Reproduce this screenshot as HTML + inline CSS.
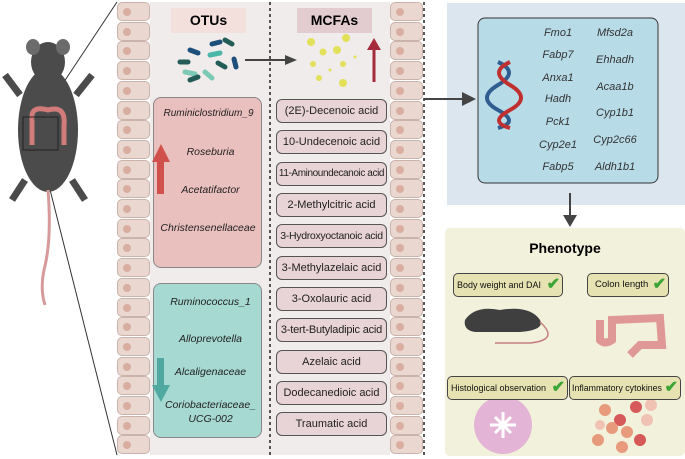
<!DOCTYPE html>
<html><head><style>
body{margin:0;width:685px;height:459px;background:#fff;position:relative;overflow:hidden;font-family:"Liberation Sans",sans-serif}
div{position:absolute;box-sizing:border-box}
.cell{width:33px;height:19px;background:#ead7d0;border:1px solid #c9b3ab;border-radius:5px}
.cell::after{content:"";position:absolute;left:5px;top:5px;width:8px;height:8px;border-radius:50%;background:#d9aea0}
.acid{left:276px;width:111px;height:24px;background:#e8d3d6;border:1px solid #555;border-radius:6px;font-size:11px;text-align:center;line-height:22px;color:#222;white-space:nowrap;overflow:hidden}
.it{font-style:italic;font-size:10.5px;color:#222;text-align:center;white-space:nowrap}
.g{font-style:italic;font-size:11px;color:#333;width:60px;text-align:center}
.chk{background:#e6e2b2;border:1px solid #444;border-radius:5px;font-size:9.5px;line-height:22px;padding-left:3px;height:24px;color:#111;white-space:nowrap}
.chk span{color:#3aa535;font-size:16px;font-weight:bold;position:absolute;right:2px;top:0px}
</style></head><body>
<svg width="685" height="459" style="position:absolute;left:0;top:0">
<line x1="40" y1="118" x2="117" y2="2" stroke="#333"/>
<line x1="40" y1="150" x2="117" y2="455" stroke="#333"/>
<ellipse cx="48" cy="130" rx="30" ry="62" fill="#4b4b4b"/>
<ellipse cx="48" cy="62" rx="17" ry="20" fill="#4b4b4b"/>
<ellipse cx="33" cy="47" rx="7" ry="8" fill="#6b6b6b"/><ellipse cx="63" cy="47" rx="7" ry="8" fill="#6b6b6b"/>
<path d="M20 95 L5 75 M76 95 L92 75 M25 180 L12 200 M72 180 L85 200" stroke="#4b4b4b" stroke-width="7"/>
<path d="M48 190 Q52 240 44 270 Q40 290 45 305" stroke="#d69a9a" stroke-width="3" fill="none"/>
<path d="M32 120 Q30 105 48 110 Q66 105 64 125 L64 145 M32 120 L32 145" stroke="#d27b7b" stroke-width="5" fill="none"/>
<rect x="23" y="117" width="35" height="33" fill="none" stroke="#222"/>
<rect x="150" y="2" width="240" height="453" fill="#f0eceb"/>
<line x1="270" y1="2" x2="270" y2="455" stroke="#222" stroke-width="1.5" stroke-dasharray="3,3"/>
<line x1="424" y1="2" x2="424" y2="455" stroke="#222" stroke-width="1.5" stroke-dasharray="3,3"/>
<g stroke-linecap="round" stroke-width="5">
<line x1="190" y1="50" x2="198" y2="53" stroke="#1e4f7a"/><line x1="212" y1="44" x2="220" y2="42" stroke="#1e4f7a"/>
<line x1="225" y1="40" x2="232" y2="44" stroke="#245c58"/><line x1="180" y1="62" x2="188" y2="62" stroke="#245c58"/>
<line x1="210" y1="55" x2="220" y2="53" stroke="#4ab7a8"/><line x1="218" y1="63" x2="225" y2="67" stroke="#245c58"/>
<line x1="185" y1="72" x2="195" y2="74" stroke="#7cc9b5"/><line x1="190" y1="80" x2="198" y2="77" stroke="#245c58"/>
<line x1="205" y1="72" x2="212" y2="78" stroke="#7cc9b5"/><line x1="234" y1="59" x2="236" y2="67" stroke="#1e4f7a"/>
</g>
<line x1="245" y1="60" x2="290" y2="60" stroke="#444" stroke-width="2"/><polygon points="285,55 297,60 285,65" fill="#444"/>
<g fill="#e3e05a"><circle cx="311" cy="42" r="4"/><circle cx="346" cy="38" r="4"/><circle cx="323" cy="52" r="3.5"/><circle cx="337" cy="50" r="4"/><circle cx="313" cy="64" r="3"/><circle cx="343" cy="64" r="3"/><circle cx="319" cy="78" r="3"/><circle cx="343" cy="83" r="4"/><circle cx="330" cy="70" r="1.5"/><circle cx="355" cy="57" r="1.5"/></g>
<line x1="374" y1="82" x2="374" y2="48" stroke="#a52a3a" stroke-width="3"/><polygon points="367,50 374,38 381,50" fill="#a52a3a"/>
<rect x="447" y="3" width="238" height="202" fill="#dbe6ee"/>
<line x1="424" y1="99" x2="468" y2="99" stroke="#444" stroke-width="2"/><polygon points="462,92 476,99 462,106" fill="#444"/>
<rect x="478" y="18" width="180" height="165" rx="7" fill="#b8dbe8" stroke="#333"/>
<path d="M498 62 Q520 72 498 85 Q476 98 498 110 Q520 122 498 128" stroke="#2f5d8f" stroke-width="4" fill="none"/>
<path d="M510 62 Q488 72 510 85 Q532 98 510 110 Q488 122 510 128" stroke="#c03030" stroke-width="4" fill="none"/>
<line x1="570" y1="193" x2="570" y2="218" stroke="#444" stroke-width="2"/><polygon points="563,215 570,227 577,215" fill="#444"/>
<rect x="445" y="228" width="240" height="228" rx="5" fill="#f2f1dc"/>
<path d="M465 320 Q475 305 500 310 Q530 305 540 320 Q545 330 520 332 L475 332 Q463 330 465 320Z" fill="#3f3f3f"/>
<path d="M540 322 Q560 340 530 343 L495 343" stroke="#c77f7f" stroke-width="1.5" fill="none"/>
<path d="M600 320 L600 340 Q605 345 612 340 L612 320 L660 318 L662 345 L640 345 L630 355" stroke="#e09896" stroke-width="8" fill="none"/>
<circle cx="503" cy="425" r="29" fill="#e3b4d5"/>
<path d="M490 425 L516 425 M503 412 L503 438 M495 417 L511 433 M511 417 L495 433" stroke="#fff" stroke-width="3"/>
<g fill="#e89a7c"><circle cx="605" cy="410" r="6"/><circle cx="620" cy="420" r="6" fill="#d65a5a"/><circle cx="636" cy="407" r="6" fill="#d65a5a"/><circle cx="612" cy="428" r="6"/><circle cx="627" cy="432" r="6"/><circle cx="647" cy="420" r="6" fill="#f0c2b4"/><circle cx="598" cy="440" r="6"/><circle cx="622" cy="447" r="6"/><circle cx="640" cy="440" r="6" fill="#d65a5a"/><circle cx="600" cy="425" r="5" fill="#f0c2b4"/><circle cx="651" cy="405" r="6" fill="#f0c2b4"/></g>
</svg>
<div id="cells"></div>
<script>
var h='';for(var i=0;i<23;i++){var y=2+i*19.7;h+='<div class="cell" style="left:117px;top:'+y+'px"></div><div class="cell" style="left:390px;top:'+y+'px"></div>';}
document.getElementById('cells').outerHTML=h;
</script>
<div style="left:171px;top:8px;width:75px;height:25px;background:#f3e0dc;font-weight:bold;font-size:14px;text-align:center;line-height:25px">OTUs</div>
<div style="left:297px;top:8px;width:75px;height:25px;background:#e2ccd0;font-weight:bold;font-size:14px;text-align:center;line-height:25px">MCFAs</div>
<div style="left:153px;top:97px;width:109px;height:171px;background:#eac0bf;border:1px solid #888;border-radius:8px"></div>
<div style="left:153px;top:283px;width:109px;height:155px;background:#a6d9d2;border:1px solid #888;border-radius:8px"></div>
<svg width="685" height="459" style="position:absolute;left:0;top:0"><rect x="157" y="160" width="7" height="34" fill="#d0504c"/><polygon points="152,162 161,144 170,162" fill="#d0504c"/><rect x="157" y="358" width="7" height="30" fill="#4fa9a0"/><polygon points="152,385 161,402 170,385" fill="#4fa9a0"/></svg>
<div class="it" style="left:155px;top:108px;width:107px;font-size:10px">Ruminiclostridium_9</div>
<div class="it" style="left:153px;top:146px;width:115px">Roseburia</div>
<div class="it" style="left:153px;top:184px;width:115px">Acetatifactor</div>
<div class="it" style="left:153px;top:222px;width:110px">Christensenellaceae</div>
<div class="it" style="left:153px;top:296px;width:115px">Ruminococcus_1</div>
<div class="it" style="left:153px;top:333px;width:115px">Alloprevotella</div>
<div class="it" style="left:153px;top:366px;width:115px">Alcaligenaceae</div>
<div class="it" style="left:153px;top:398px;width:115px;line-height:14px">Coriobacteriaceae_<br>UCG-002</div>
<div class="acid" style="top:99px">(2E)-Decenoic acid</div>
<div class="acid" style="top:130px">10-Undecenoic acid</div>
<div class="acid" style="top:162px;font-size:10px;letter-spacing:-0.4px">11-Aminoundecanoic acid</div>
<div class="acid" style="top:193px">2-Methylcitric acid</div>
<div class="acid" style="top:224px;font-size:10.5px;letter-spacing:-0.3px">3-Hydroxyoctanoic acid</div>
<div class="acid" style="top:256px">3-Methylazelaic acid</div>
<div class="acid" style="top:287px">3-Oxolauric acid</div>
<div class="acid" style="top:318px;letter-spacing:-0.2px">3-tert-Butyladipic acid</div>
<div class="acid" style="top:350px">Azelaic acid</div>
<div class="acid" style="top:381px">Dodecanedioic acid</div>
<div class="acid" style="top:412px">Traumatic acid</div>
<div class="g" style="left:528px;top:27px">Fmo1</div><div class="g" style="left:528px;top:49px">Fabp7</div><div class="g" style="left:528px;top:72px">Anxa1</div><div class="g" style="left:528px;top:93px">Hadh</div><div class="g" style="left:528px;top:116px">Pck1</div><div class="g" style="left:528px;top:139px">Cyp2e1</div><div class="g" style="left:528px;top:161px">Fabp5</div>
<div class="g" style="left:585px;top:27px">Mfsd2a</div><div class="g" style="left:585px;top:54px">Ehhadh</div><div class="g" style="left:585px;top:81px">Acaa1b</div><div class="g" style="left:585px;top:107px">Cyp1b1</div><div class="g" style="left:585px;top:134px">Cyp2c66</div><div class="g" style="left:585px;top:161px">Aldh1b1</div>
<div style="left:445px;top:240px;width:240px;text-align:center;font-weight:bold;font-size:14px">Phenotype</div>
<div class="chk" style="left:453px;top:273px;width:110px;font-size:9px">Body weight and DAI<span>✔</span></div>
<div class="chk" style="left:587px;top:273px;width:82px;padding-left:7px">Colon length<span>✔</span></div>
<div class="chk" style="left:447px;top:376px;width:121px;font-size:9px">Histological observation<span>✔</span></div>
<div class="chk" style="left:569px;top:376px;width:112px;padding-left:2px;font-size:8.8px">Inflammatory cytokines<span>✔</span></div>
</body></html>
